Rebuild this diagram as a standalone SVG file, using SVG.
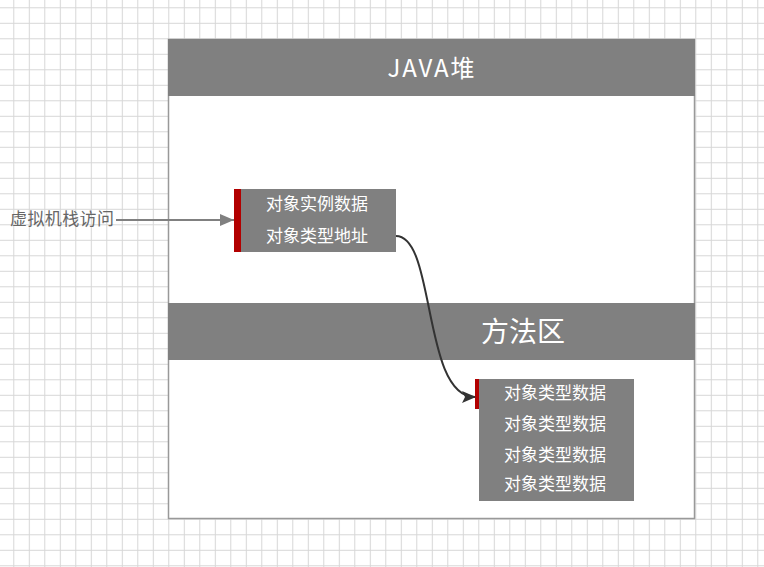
<svg xmlns="http://www.w3.org/2000/svg" width="764" height="567" viewBox="0 0 764 567">
<defs>
<pattern id="grid" x="13.3" y="7.3" width="15.5" height="15.5" patternUnits="userSpaceOnUse">
<path d="M0.5 0 V15.5 M0 0.5 H15.5" fill="none" stroke="#d6d6d6" stroke-width="1"/>
</pattern>
<marker id="arrGray" viewBox="0 0 14 12" refX="14" refY="6" markerWidth="14" markerHeight="12" markerUnits="userSpaceOnUse" orient="auto">
<path d="M0 0 L14 6 L0 12 Z" fill="#808080"/>
</marker>
<marker id="arrDark" viewBox="0 0 14 12" refX="13" refY="6" markerWidth="14" markerHeight="12" markerUnits="userSpaceOnUse" orient="auto">
<path d="M0 0 L14 6 L0 12 L3 6 Z" fill="#333333"/>
</marker>
</defs>
<style>
.t{font-family:"Noto Sans CJK SC","Liberation Sans",sans-serif;fill:#ffffff;text-anchor:middle;dominant-baseline:central}
.hdr{fill:#808080}
.item{font-size:17px}
</style>
<rect width="764" height="567" fill="#ffffff"/>
<rect width="764" height="567" fill="url(#grid)"/>
<g id="java-heap">
<rect x="168.5" y="39.5" width="526" height="479" fill="#ffffff" stroke="#999999" stroke-width="1.5"/>
<rect class="hdr" x="168" y="39" width="527" height="57"/>
<text class="t" x="431" y="66" font-size="24" textLength="87" lengthAdjust="spacing">JAVA堆</text>
</g>
<g id="method-area">
<rect class="hdr" x="168" y="303" width="527" height="57"/>
<text class="t" x="523" y="330" font-size="28">方法区</text>
</g>
<g id="object">
<rect x="234" y="189" width="7" height="63" fill="#b20000"/>
<rect x="241" y="189" width="155" height="63" fill="#808080"/>
<text class="t item" x="317" y="202.5">对象实例数据</text>
<text class="t item" x="317" y="234.5">对象类型地址</text>
</g>
<g id="type-data">
<rect x="475" y="379" width="4" height="30" fill="#b20000"/>
<rect x="479" y="379" width="155" height="122" fill="#808080"/>
<text class="t item" x="555" y="391.5">对象类型数据</text>
<text class="t item" x="555" y="422.5">对象类型数据</text>
<text class="t item" x="555" y="453.5">对象类型数据</text>
<text class="t item" x="555" y="482.5">对象类型数据</text>
</g>
<g id="stack-label">
<text x="10" y="217.5" font-family="Noto Sans CJK SC,Liberation Sans,sans-serif" font-size="17" fill="#666666" dominant-baseline="central" textLength="104" lengthAdjust="spacing">虚拟机栈访问</text>
</g>
<g id="connectors">
<path d="M116 220 H234" fill="none" stroke="#808080" stroke-width="2" marker-end="url(#arrGray)"/>
<path d="M396 236 C 436 236, 422 397, 475 397" fill="none" stroke="#333333" stroke-width="2" marker-end="url(#arrDark)"/>
</g>
</svg>
